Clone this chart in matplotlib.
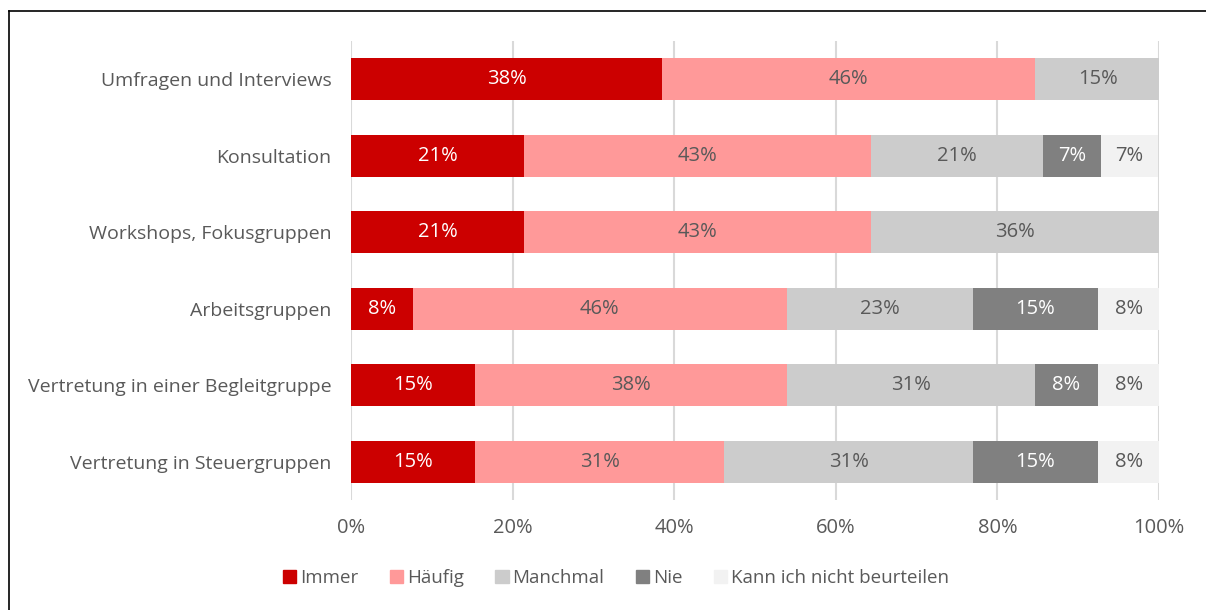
import matplotlib.pyplot as plt
from matplotlib.lines import Line2D
import numpy as np

plt.rcParams['font.family'] = ['Open Sans', 'DejaVu Sans']

categories = ["Umfragen und Interviews", "Konsultation", "Workshops, Fokusgruppen",
              "Arbeitsgruppen", "Vertretung in einer Begleitgruppe", "Vertretung in Steuergruppen"]
series = ["Immer", "Häufig", "Manchmal", "Nie", "Kann ich nicht beurteilen"]
immer = [38.5, 21.4, 21.4, 7.7, 15.4, 15.4]
haeufig = [46.2, 42.9, 42.9, 46.2, 38.5, 30.8]
manchmal = [15.4, 21.4, 35.7, 23.1, 30.8, 30.8]
nie = [0, 7.1, 0, 15.4, 7.7, 15.4]
kann = [0, 7.1, 0, 7.7, 7.7, 7.7]
xticks = [0, 20, 40, 60, 80, 100]

colors = ["#CC0000", "#FF9999", "#CCCCCC", "#808080", "#F2F2F2"]
text_colors = ["white", "#595959", "#595959", "white", "#595959"]
grey = "#595959"

fig = plt.figure(figsize=(12.06, 6.10), dpi=100)
ax = fig.add_axes([351 / 1206, 110 / 610, 808 / 1206, 459 / 610])

y = np.arange(len(categories))
left = np.zeros(len(categories))
for i, vals in enumerate([immer, haeufig, manchmal, nie, kann]):
    vals = np.array(vals)
    ax.barh(y, vals, left=left, height=0.55, color=colors[i], label=series[i], zorder=3)
    for j, v in enumerate(vals):
        if v > 0:
            ax.text(left[j] + v / 2, y[j], f"{round(v)}%", ha="center", va="center",
                    fontsize=14.5, color=text_colors[i], zorder=4)
    left += vals

ax.set_xlim(0, 100)
ax.set_ylim(len(categories) - 0.5, -0.5)
ax.set_yticks(y)
ax.set_yticklabels(categories, fontsize=14, color=grey)
ax.set_xticks(xticks)
ax.set_xticklabels([f"{t}%" for t in xticks], fontsize=14.5, color=grey)
ax.tick_params(length=0, pad=14, axis="y")
ax.tick_params(length=0, pad=13, axis="x")
ax.xaxis.grid(True, color="#D9D9D9", linewidth=1.5, zorder=0)
for s in ax.spines.values():
    s.set_visible(False)

handles = [plt.Rectangle((0, 0), 1, 1, color=c) for c in colors]
fig.legend(handles, series, loc="center", bbox_to_anchor=(616 / 1206, 1 - 578 / 610),
           ncol=5, frameon=False, fontsize=13.5, labelcolor=grey,
           handlelength=0.7, handleheight=0.7, handletextpad=0.2, columnspacing=1.7)

# frame around the chart
fig.add_artist(Line2D([8.5 / 1206, 8.5 / 1206], [0, 1 - 11 / 610], transform=fig.transFigure,
                      color="black", linewidth=1.2))
fig.add_artist(Line2D([8.5 / 1206, 1], [1 - 11 / 610, 1 - 11 / 610], transform=fig.transFigure,
                      color="black", linewidth=1.2))

fig.savefig("out.png", dpi=100)
